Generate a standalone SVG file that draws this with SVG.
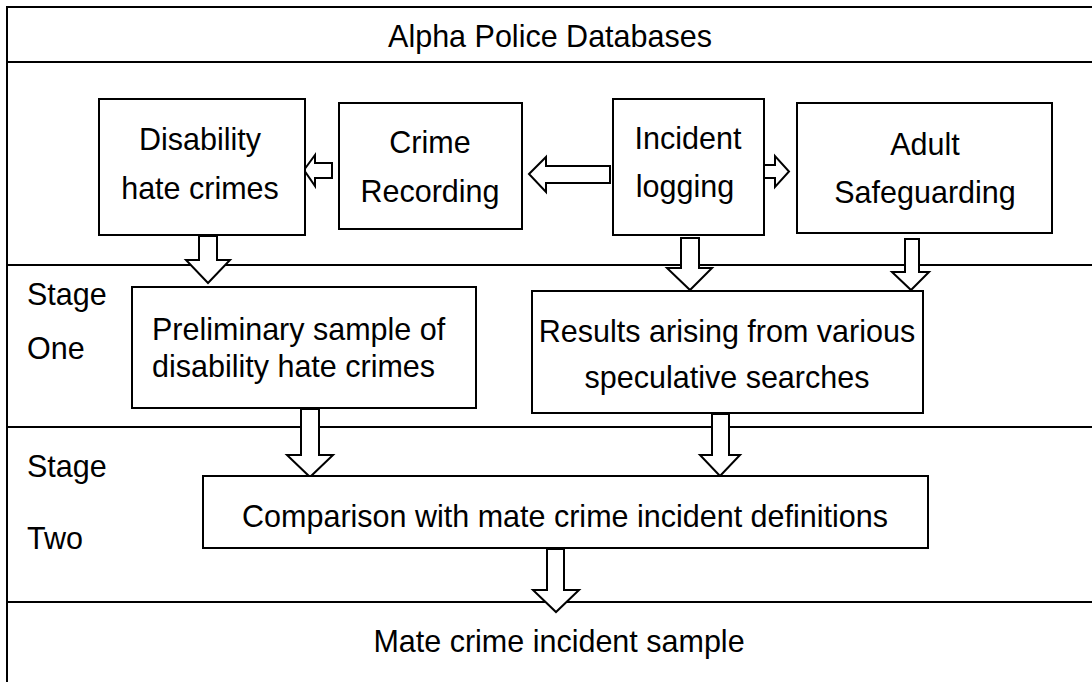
<svg xmlns="http://www.w3.org/2000/svg" width="1092" height="682" viewBox="0 0 1092 682">
<style>
.frame{stroke:#000;stroke-width:2;fill:none}
.box{fill:#fff;stroke:#000;stroke-width:2}
.arr{fill:#fff;stroke:#000;stroke-width:2;stroke-linejoin:miter}
text{font-family:"Liberation Sans",Arial,sans-serif;font-size:30.5px;fill:#000}
.c{text-anchor:middle}
</style>
<rect width="1092" height="682" fill="#fff"/>
<g id="frame">
<line class="frame" x1="7" y1="7" x2="7" y2="682"/>
<line class="frame" x1="6" y1="7" x2="1092" y2="7"/>
<line class="frame" x1="7" y1="62" x2="1092" y2="62"/>
<line class="frame" x1="7" y1="265" x2="1092" y2="265"/>
<line class="frame" x1="7" y1="427" x2="1092" y2="427"/>
<line class="frame" x1="7" y1="602" x2="1092" y2="602"/>
</g>
<g id="labels">
<text class="c" x="550" y="47">Alpha Police Databases</text>
<text x="27" y="305">Stage</text>
<text x="27" y="359">One</text>
<text x="27" y="477">Stage</text>
<text x="27" y="549">Two</text>
<text class="c" x="559" y="652">Mate crime incident sample</text>
</g>
<g id="connectors">
<polygon class="arr" points="304,170 315,155 315,163 332,163 332,178 315,178 315,186"/>
<polygon class="arr" points="529,174 546,157 546,166 610,166 610,183 546,183 546,192"/>
<polygon class="arr" points="764,165 775,165 775,156 789,171.5 775,187 775,178 764,178"/>
<polygon class="arr" points="199,236 217,236 217,260 230,260 208,283 186,260 199,260"/>
<polygon class="arr" points="681,238 699,238 699,268 712,268 690,290 667,268 681,268"/>
<polygon class="arr" points="905,239 919,239 919,272 929,272 911,290 892,272 905,272"/>
<polygon class="arr" points="301,409 319,409 319,455 333,455 310,477 287,455 301,455"/>
<polygon class="arr" points="712,414 729,414 729,455 740,455 720,476 700,455 712,455"/>
<polygon class="arr" points="547,549 564,549 564,590 579,590 556,612 533,590 547,590"/>
</g>
<g id="disability">
<rect class="box" x="99" y="99" width="206" height="136"/>
<text class="c" x="200" y="150">Disability</text>
<text class="c" x="200" y="199">hate crimes</text>
</g>
<g id="crime">
<rect class="box" x="339" y="103" width="183" height="126"/>
<text class="c" x="430" y="153">Crime</text>
<text class="c" x="430" y="202">Recording</text>
</g>
<g id="incident">
<rect class="box" x="613" y="99" width="151" height="136"/>
<text class="c" x="688" y="149">Incident</text>
<text class="c" x="685" y="197">logging</text>
</g>
<g id="adult">
<rect class="box" x="797" y="103" width="255" height="130"/>
<text class="c" x="925" y="155">Adult</text>
<text class="c" x="925" y="203">Safeguarding</text>
</g>
<g id="preliminary">
<rect class="box" x="132" y="287" width="344" height="121"/>
<text x="152" y="340">Preliminary sample of</text>
<text x="152" y="377">disability hate crimes</text>
</g>
<g id="results">
<rect class="box" x="532" y="291" width="391" height="122"/>
<text class="c" x="727" y="342">Results arising from various</text>
<text class="c" x="727" y="388">speculative searches</text>
</g>
<g id="comparison">
<rect class="box" x="203" y="476" width="725" height="72"/>
<text class="c" x="565" y="527">Comparison with mate crime incident definitions</text>
</g>
</svg>
